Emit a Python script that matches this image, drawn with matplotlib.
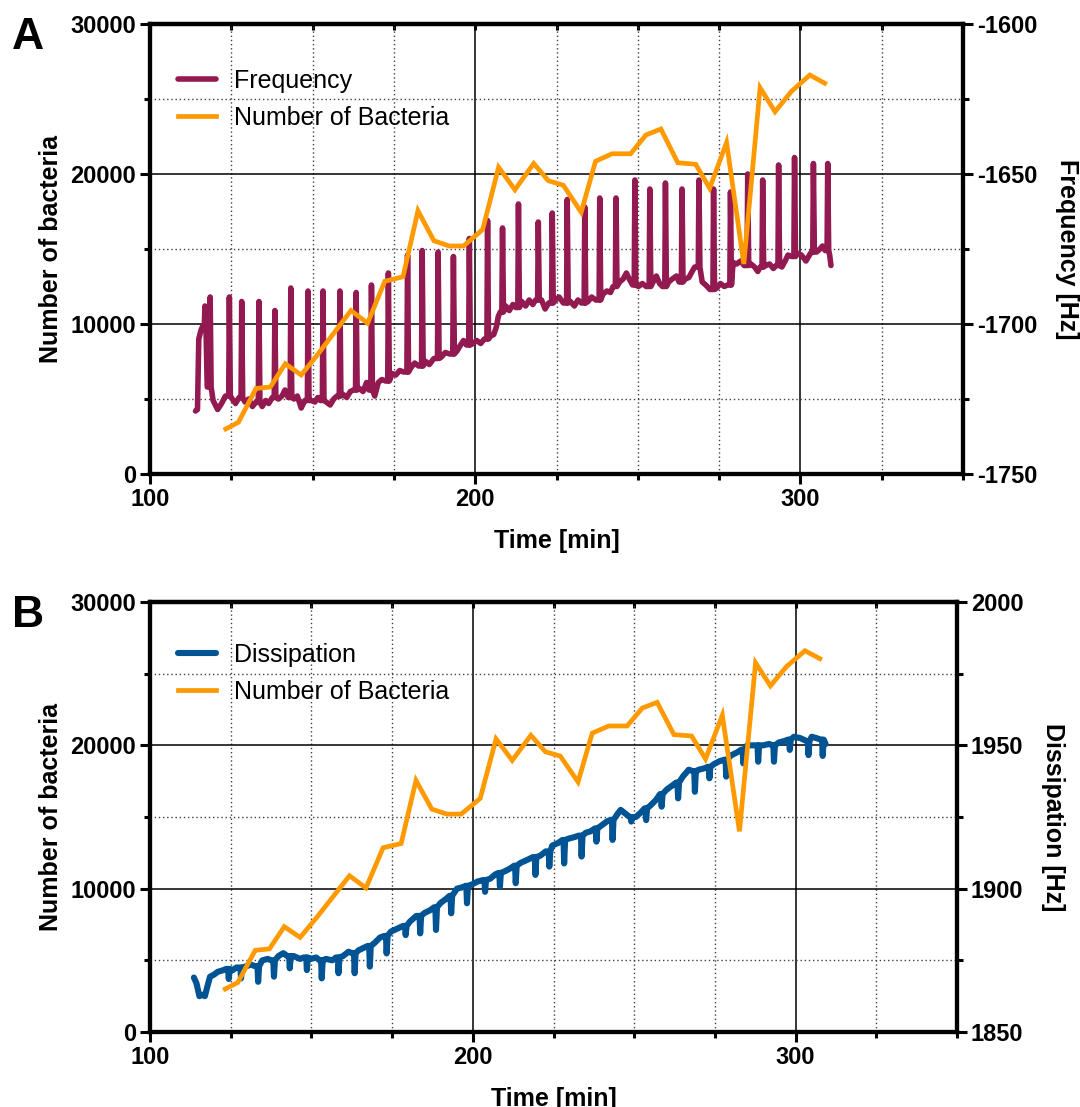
import numpy as np
import matplotlib
matplotlib.use("Agg")
import matplotlib.pyplot as plt
from matplotlib.ticker import MultipleLocator

plt.rcParams['font.family'] = ['Liberation Sans', 'DejaVu Sans']
plt.rcParams['font.weight'] = 'bold'
plt.rcParams['axes.labelweight'] = 'bold'
plt.rcParams['axes.unicode_minus'] = False

# Bacteria counted on the sensor surface (min, count)
bact_time = [123.3, 127.2, 132.6, 137.0, 141.6, 146.5, 151.5, 161.8, 166.9, 172.2,
             177.8, 182.4, 187.3, 192.0, 196.4, 202.3, 207.2, 212.2, 218.0, 222.5,
             227.1, 232.6, 237.0, 242.1, 247.8, 252.5, 257.1, 262.3, 267.8, 272.1,
             277.3, 282.6, 287.6, 292.2, 297.2, 302.9, 307.5]
bact_count = [3000, 3450, 5700, 5800, 7350, 6600, 7950, 10900, 10050, 12850,
              13150, 17550, 15550, 15200, 15200, 16300, 20450, 18950, 20700, 19550,
              19250, 17450, 20850, 21350, 21350, 22600, 23000, 20750, 20650, 19050,
              22100, 14000, 25750, 24150, 25500, 26600, 26050]

# QCM frequency shift between medium exchanges (min, Hz)
freq_base_time = [
    114.0, 114.6, 115.0, 115.7, 116.3, 117.6,
    119.4, 120.8, 122.0, 123.2,
    125.3, 126.3, 127.4,
    129.2, 130.4, 131.5, 132.6,
    134.5, 135.6, 136.5, 137.6,
    139.5, 140.6, 141.5, 142.5,
    144.3, 145.3, 146.5, 147.6,
    149.6, 150.7, 151.6, 152.4,
    154.2, 155.4, 156.5, 157.5,
    159.4, 160.5, 161.6, 162.6,
    164.4, 165.5, 166.6, 167.3,
    169.1, 170.2, 171.3, 172.4,
    174.4, 175.6, 176.8, 178.0,
    180.3, 181.4, 182.6,
    184.8, 185.9, 187.3,
    189.6, 190.8, 192.2,
    194.4, 195.5, 196.4, 197.3,
    199.3, 200.5, 201.7, 202.8,
    204.8, 205.7, 206.5, 207.1, 207.7,
    209.4, 210.5, 211.6, 212.5,
    214.3, 215.5, 216.6, 217.7, 218.6,
    220.4, 221.5, 222.6,
    224.7, 225.8, 227.1,
    229.3, 230.5, 231.6, 232.7,
    234.7, 235.8, 237.1,
    239.3, 240.5, 241.6, 242.4,
    244.4, 245.5, 246.5, 247.6, 248.4,
    250.2, 251.4, 252.6,
    254.7, 255.7, 256.7, 257.6,
    259.5, 260.6, 261.9, 262.7,
    264.6, 265.7, 266.7, 267.5,
    269.8, 270.9, 272.2,
    274.3, 275.4, 276.6, 277.6,
    279.3, 280.4, 281.6, 282.7,
    284.8, 285.9, 286.9, 287.6,
    289.4, 290.5, 291.7, 292.5,
    294.3, 295.3, 296.2, 297.3,
    299.2, 300.3, 301.7, 302.8, 303.4,
    305.0, 306.0, 306.8, 307.6,
    309.0, 309.4]
freq_base_hz = [
    -1729, -1728.5, -1705, -1702, -1700.5, -1721,
    -1725.5, -1728.5, -1726.5, -1724,
    -1725, -1726.5, -1724.5,
    -1726, -1725, -1727.5, -1726,
    -1727.5, -1725.5, -1726.5, -1724.5,
    -1725, -1724, -1722, -1724.5,
    -1725, -1724, -1728, -1725.5,
    -1725.5, -1726, -1724.5, -1725.5,
    -1726, -1727, -1725, -1724,
    -1723.5, -1724.5, -1722.5, -1722,
    -1721.5, -1722.5, -1719.5, -1722,
    -1724, -1719.5, -1718.5, -1719,
    -1716.5, -1717, -1715.5, -1716,
    -1714.5, -1713, -1714,
    -1712.5, -1713.5, -1711.5,
    -1711, -1709.5, -1710,
    -1709, -1707, -1705.5, -1707,
    -1706.5, -1705.5, -1706.5, -1705,
    -1704, -1703.5, -1701, -1697.5, -1696,
    -1694, -1695.5, -1693.5, -1694.5,
    -1692.5, -1694, -1692, -1693.5, -1692,
    -1692, -1695, -1693,
    -1692, -1691, -1693,
    -1692.5, -1694, -1692, -1693,
    -1692.5, -1691, -1692,
    -1690, -1689, -1689.5, -1687.5,
    -1686, -1685, -1683, -1685.5, -1687,
    -1687.5, -1686.5, -1687.5,
    -1686, -1684, -1686.5, -1687.5,
    -1686, -1685, -1684, -1686,
    -1685, -1684.5, -1682.5, -1681,
    -1686, -1687, -1688.5,
    -1688, -1686.5, -1687.5, -1687,
    -1679.5, -1680, -1679, -1680.5,
    -1680, -1681, -1682.5, -1681,
    -1680.5, -1680, -1681.5, -1680.5,
    -1681, -1679, -1677, -1677.5,
    -1676.5, -1677, -1679, -1677, -1676,
    -1676, -1675, -1674, -1675.5,
    -1677, -1680.5]

# Medium exchanges: frequency peaks (min, Hz)
exchange_time = [116.9, 118.5, 124.4, 128.2, 133.5, 138.4, 143.3, 148.6, 153.2, 158.4,
                 163.4, 168.1, 173.3, 179.2, 183.7, 188.6, 193.3, 198.2, 203.8, 208.4,
                 213.3, 219.4, 223.7, 228.3, 233.7, 238.3, 243.3, 249.1, 253.7, 258.5,
                 263.6, 268.8, 273.3, 278.5, 283.8, 288.4, 293.3, 298.2, 304.0, 308.4]
freq_peak_hz = [-1694, -1691, -1691, -1692.5, -1692.5, -1695.5, -1688, -1689, -1689, -1689,
                -1689.5, -1687, -1683, -1677, -1675.5, -1676, -1677.5, -1671.5, -1665.5, -1668,
                -1660, -1666, -1663, -1658.5, -1661, -1658, -1658, -1652, -1655, -1653,
                -1655, -1652, -1655, -1656, -1650, -1652, -1647, -1644.5, -1646.5, -1646.5]

# QCM dissipation between medium exchanges (min, Hz)
diss_base_time = [
    113.6, 114.4, 115.3, 116.2, 117.0, 117.8, 118.6, 119.8, 121.0, 122.5,
    123.6, 125.5, 126.8, 129.5, 131.2, 132.5, 134.8, 136.5, 137.6, 139.8,
    141.3, 142.5, 144.5, 146.5, 147.6, 149.8, 151.5, 152.5, 154.5, 156.5,
    157.6, 159.8, 161.5, 162.6, 164.6, 166.5, 167.4, 169.5, 171.3, 172.6,
    174.6, 176.5, 178.4, 180.5, 182.5, 185.0, 186.8, 188.0, 190.0, 191.8,
    192.8, 195.1, 196.8, 197.8, 199.8, 201.5, 203.2, 205.4, 207.0, 208.0,
    209.8, 211.5, 212.8, 214.8, 216.8, 218.6, 220.9, 222.6, 224.6, 226.5,
    227.8, 229.8, 231.5, 232.8, 235.0, 236.5, 237.8, 239.8, 241.6, 242.8,
    244.8, 245.8, 247.5, 248.6, 250.5, 252.0, 253.2, 255.0, 256.8, 258.0,
    260.0, 261.8, 263.0, 265.0, 266.9, 268.2, 270.0, 271.8, 272.8, 274.8,
    276.5, 278.0, 280.0, 281.8, 283.2, 285.0, 286.8, 287.9, 290.0, 291.8,
    292.8, 294.8, 296.5, 297.7, 299.5, 301.5, 303.4, 305.0, 306.5, 307.8,
    309.3]
diss_base_hz = [
    1869, 1867, 1862.5, 1863, 1862.5, 1866, 1869.3, 1870, 1871, 1871.5,
    1872, 1871.5, 1872.5, 1872.8, 1873.5, 1873, 1875, 1875.5, 1875, 1876.5,
    1877.5, 1876.5, 1876.5, 1875.5, 1876, 1875.5, 1876, 1875, 1875.5, 1875,
    1876, 1876.5, 1878, 1877.5, 1878.5, 1879.5, 1880, 1881, 1883, 1883.5,
    1885, 1886, 1887, 1888.5, 1890.5, 1891.5, 1892.5, 1893.5, 1895, 1896.5,
    1897.5, 1900, 1900.5, 1901, 1901.5, 1902.5, 1903, 1903.5, 1905, 1905.5,
    1906, 1907, 1908, 1909, 1910, 1911, 1911.5, 1913, 1915, 1916,
    1917, 1917.5, 1918, 1918.5, 1919.5, 1920, 1921, 1922, 1923.5, 1924,
    1926, 1927.5, 1926, 1925, 1925, 1926.5, 1928, 1929, 1931, 1933,
    1934.5, 1936, 1937, 1939, 1941.5, 1941, 1941.5, 1942, 1942.5, 1943.5,
    1944.5, 1945, 1946.5, 1947.5, 1948.5, 1950, 1950, 1950, 1950, 1950.5,
    1950, 1951, 1951.5, 1952, 1953, 1952.5, 1951.5, 1953, 1952.5, 1952,
    1950.5]

# Dissipation minima at the medium exchanges (min, Hz)
diss_dip_time = [124.4, 128.2, 133.5, 138.4, 143.3, 148.6, 153.2, 158.4,
                 163.4, 168.1, 173.3, 179.2, 183.7, 188.6, 193.3, 198.2, 203.8, 208.4,
                 213.3, 219.4, 223.7, 228.3, 233.7, 238.3, 243.3, 249.1, 253.7, 258.5,
                 263.6, 268.8, 273.3, 278.5, 283.8, 288.4, 293.3, 298.2, 304.0, 308.4]
diss_dip_hz = [1868.5, 1868.7, 1867.5, 1869.3, 1872.2, 1871.6, 1868.7, 1870.5,
               1870.5, 1872.8, 1877.4, 1883.8, 1884.4, 1885.6, 1891.4, 1894.9, 1898.9, 1900.7,
               1901.9, 1904.8, 1907.7, 1908.8, 1911.2, 1916.4, 1917, 1923.4, 1923.9, 1928.6,
               1931.5, 1933.8, 1938.5, 1939.1, 1943.7, 1944.3, 1944.3, 1948.4, 1946.6, 1946.3]

MAROON = '#921A50'
ORANGE = '#FF9900'
BLUE = '#005493'


def build_trace(base_t, base_v, pulse_t, pulse_v, rise=0.2, fall=0.3):
    """Insert short pulses into a baseline trace; each pulse starts and ends
    at the preceding baseline reading."""
    bt = np.asarray(base_t)
    t = list(base_t)
    v = list(base_v)
    for pt, pv in zip(pulse_t, pulse_v):
        i = max(int(np.searchsorted(bt, pt)) - 1, 0)
        foot = base_v[i]
        t += [pt - rise, pt, pt + fall]
        v += [foot, pv, foot]
    order = np.argsort(t, kind='stable')
    return np.asarray(t)[order], np.asarray(v)[order]


W, H = 1080, 1107
fig = plt.figure(figsize=(W / 100, H / 100), dpi=100)


def px_rect(left, top, right, bottom):
    return [left / W, 1 - bottom / H, (right - left) / W, (bottom - top) / H]


TICK_FS = 17
LABEL_FS = 18
LEGEND_FS = 18


def draw_panel(rect, tr_t, tr_v, color, lw, hz_lim, hz_label, tr_label, legend_xy):
    ax = fig.add_axes(rect)          # QCM signal, right axis
    ax2 = ax.twinx()                 # bacteria count, left axis
    h_sig, = ax.plot(tr_t, tr_v, color=color, lw=lw, solid_joinstyle='round',
                     solid_capstyle='round', zorder=3)
    h_bac, = ax2.plot(bact_time, bact_count, color=ORANGE, lw=3.4,
                      solid_joinstyle='miter', zorder=3)

    ax.set_xlim(100, 350)
    ax.set_ylim(*hz_lim)
    ax2.set_ylim(0, 30000)

    ax.xaxis.set_major_locator(MultipleLocator(100))
    ax.xaxis.set_minor_locator(MultipleLocator(25))
    ax.yaxis.set_major_locator(MultipleLocator(50))
    ax.yaxis.set_minor_locator(MultipleLocator(25))
    ax2.yaxis.set_major_locator(MultipleLocator(10000))
    ax2.yaxis.set_minor_locator(MultipleLocator(5000))

    ax.yaxis.tick_right()
    ax.yaxis.set_label_position('right')
    ax2.yaxis.tick_left()
    ax2.yaxis.set_label_position('left')

    ax.set_axisbelow(True)
    ax.grid(which='major', color='black', lw=1.1, ls='-')
    ax.grid(which='minor', color='#404040', lw=1.0, ls=(0, (1, 2)))

    for a in (ax, ax2):
        for s in a.spines.values():
            s.set_linewidth(3.0)
        a.tick_params(which='major', direction='out', length=7.5, width=2.2,
                      labelsize=TICK_FS, pad=2.5)
        a.tick_params(which='minor', direction='out', length=4, width=2.2)

    # inward marks along the top edge at every grid position
    top = ax.secondary_xaxis('top')
    top.xaxis.set_major_locator(MultipleLocator(25))
    top.tick_params(direction='in', length=4, width=2.2, labeltop=False)
    top.spines['top'].set_linewidth(3.0)

    ax.set_xlabel('Time [min]', fontsize=LABEL_FS, fontweight='bold', labelpad=13)
    ax2.set_ylabel('Number of bacteria', fontsize=LABEL_FS, fontweight='bold', labelpad=5)
    ax.set_ylabel(hz_label, fontsize=LABEL_FS, fontweight='bold', rotation=270, labelpad=30)

    ax2.legend([h_sig, h_bac], [tr_label, 'Number of Bacteria'],
               loc='upper left', bbox_to_anchor=legend_xy, frameon=False,
               prop={'size': LEGEND_FS, 'weight': 'normal'},
               handlelength=1.5, handletextpad=0.75, labelspacing=0.52,
               borderaxespad=0, borderpad=0)
    return ax, ax2


freq_t, freq_v = build_trace(freq_base_time, freq_base_hz, exchange_time, freq_peak_hz)
diss_t, diss_v = build_trace(diss_base_time, diss_base_hz, diss_dip_time, diss_dip_hz)

draw_panel(px_rect(150, 24, 963, 474), freq_t, freq_v, MAROON, 4.0,
           (-1750, -1600), 'Frequency [Hz]', 'Frequency', (28 / 813, 1 - 45 / 450))
draw_panel(px_rect(150, 602, 957, 1032), diss_t, diss_v, BLUE, 4.4,
           (1850, 2000), 'Dissipation [Hz]', 'Dissipation', (28 / 807, 1 - 41 / 430))

fig.text(12 / W, 1 - 17 / H, 'A', fontsize=32, fontweight='bold', va='top', ha='left')
fig.text(12 / W, 1 - 595 / H, 'B', fontsize=32, fontweight='bold', va='top', ha='left')

fig.savefig('out.png', dpi=100)
